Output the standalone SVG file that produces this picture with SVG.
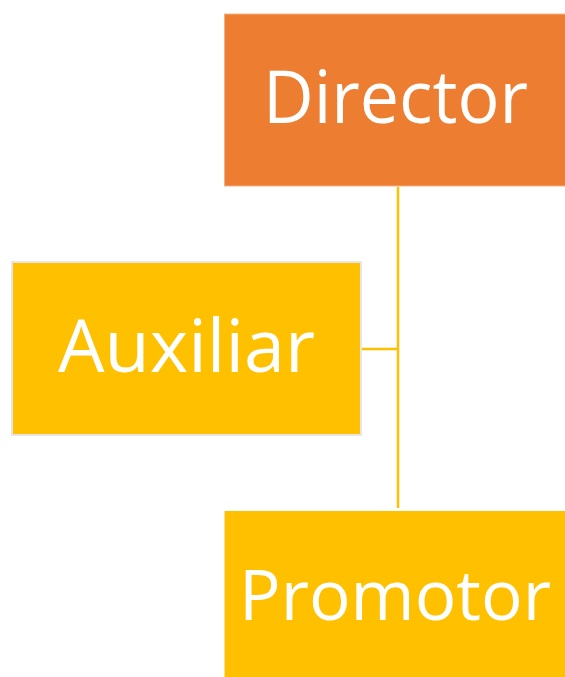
<svg xmlns="http://www.w3.org/2000/svg" width="565" height="677" viewBox="0 0 565 677">
<style>
.lbl{font-family:"Open Sans","Noto Sans","Liberation Sans",sans-serif;font-size:74px;fill:#fff;text-anchor:middle}
.conn{stroke:#FFC000;stroke-width:2.5;fill:none}
</style>
<rect width="565" height="677" fill="#fff"/>
<g id="connectors">
<path class="conn" d="M398 187 V508"/>
<path class="conn" d="M362 349 H398"/>
</g>
<g id="director">
<rect x="224.5" y="14" width="341" height="172" fill="#ED7D31" stroke="#F4B183" stroke-width="1"/>
<text class="lbl" x="395.5" y="123" textLength="265" lengthAdjust="spacingAndGlyphs">Director</text>
</g>
<g id="auxiliar">
<rect x="12" y="262" width="349" height="173" fill="#FFC000" stroke="#E6E6E6" stroke-width="2"/>
<text class="lbl" x="186.5" y="372" textLength="257" lengthAdjust="spacingAndGlyphs">Auxiliar</text>
</g>
<g id="promotor">
<rect x="224.5" y="511" width="341" height="166" fill="#FFC000"/>
<text class="lbl" x="395" y="620" style="font-size:70px" textLength="312" lengthAdjust="spacingAndGlyphs">Promotor</text>
</g>
</svg>
